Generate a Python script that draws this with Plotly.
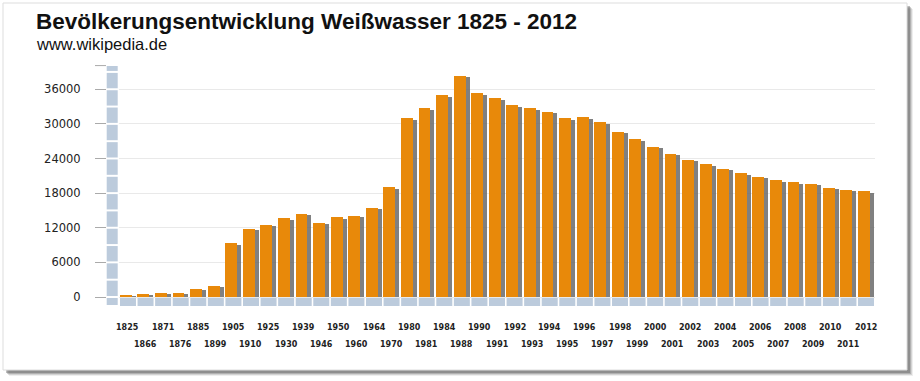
import plotly.graph_objects as go

# ---------------- data ----------------
years = ["1825", "1866", "1871", "1876", "1885", "1899", "1905", "1910", "1925", "1930",
         "1939", "1946", "1950", "1960", "1964", "1970", "1980", "1981", "1984", "1988",
         "1990", "1991", "1992", "1993", "1994", "1995", "1996", "1997", "1998", "1999",
         "2000", "2001", "2002", "2003", "2004", "2005", "2006", "2007", "2008", "2009",
         "2010", "2011", "2012"]
population = [400, 570, 690, 750, 1380, 1900, 9340, 11810, 12560, 13660,
              14400, 12900, 13830, 14060, 15490, 19020, 30950, 32680, 34980, 38320,
              35330, 34400, 33250, 32730, 32100, 31000, 31180, 30260, 28640, 27320,
              26040, 24780, 23790, 23000, 22240, 21440, 20850, 20230, 19880, 19590,
              18950, 18600, 18330]
y_tick_values = [0, 6000, 12000, 18000, 24000, 30000, 36000]
y_tick_labels = ["0", "6000", "12000", "18000", "24000", "30000", "36000"]

title_text = "Bevölkerungsentwicklung Weißwasser 1825 - 2012"
subtitle_text = "www.wikipedia.de"

# ---------------- geometry helpers ----------------
W, H = 920, 381
def px(x):
    return x / W
def py(y):
    return 1 - y / H

Y_MIN, Y_MAX = -1560, 40200
n = len(years)
idx = list(range(n))

ORANGE = "#E8890A"
SHADOW = "#6a6a6a"
FLOOR = "#BCCBDC"

fig = go.Figure()

# shadow bars
fig.add_trace(go.Bar(
    x=idx, y=[v - 250 for v in population], base=0,
    offset=-0.27, width=0.72,
    marker=dict(color=SHADOW, line=dict(width=0)),
    opacity=0.85, hoverinfo="skip", showlegend=False,
))
# main bars
fig.add_trace(go.Bar(
    x=idx, y=population,
    offset=-0.455, width=0.68,
    marker=dict(color=ORANGE, line=dict(width=0)),
    name="Einwohner", showlegend=False,
))

shapes = []
# page frame with drop shadow
for k, op in enumerate([0.10, 0.18, 0.28, 0.40]):
    d = 4 - k
    shapes.append(dict(type="rect", xref="paper", yref="paper",
                       x0=px(5 + d), x1=px(909 + d), y0=py(372 + d), y1=py(5 + d),
                       fillcolor=f"rgba(90,90,90,{op})", line=dict(width=0), layer="below"))
shapes.append(dict(type="rect", xref="paper", yref="paper",
                   x0=px(3), x1=px(907), y0=py(370), y1=py(3),
                   fillcolor="white", line=dict(color="#dddddd", width=1), layer="below"))

# left wall segments
seg_edges = [Y_MIN] + list(range(0, 39001, 3000)) + [Y_MAX]
for a, b in zip(seg_edges[:-1], seg_edges[1:]):
    shapes.append(dict(type="rect", xref="paper", yref="y",
                       x0=px(106.7), x1=px(117.7), y0=a + 170, y1=b - 170,
                       fillcolor=FLOOR, line=dict(width=0), layer="below"))
# top tick of wall
shapes.append(dict(type="line", xref="paper", yref="y",
                   x0=px(95), x1=px(106), y0=Y_MAX - 100, y1=Y_MAX - 100,
                   line=dict(color="#aaaaaa", width=1)))
# floor segments
for i in idx:
    shapes.append(dict(type="rect", xref="x", yref="y",
                       x0=i - 0.455, x1=i + 0.455, y0=Y_MIN, y1=-60,
                       fillcolor=FLOOR, line=dict(width=0), layer="below"))

annotations = [
    dict(text=f"<b>{title_text}</b>", xref="paper", yref="paper",
         x=px(34), y=py(21), xanchor="left", yanchor="middle", showarrow=False,
         font=dict(family="Liberation Sans, Arial", size=22.5, color="#111111")),
    dict(text=subtitle_text, xref="paper", yref="paper",
         x=px(34), y=py(44), xanchor="left", yanchor="middle", showarrow=False,
         font=dict(family="Liberation Sans, Arial", size=16.5, color="#111111")),
]
for i, yr in enumerate(years):
    row_y = 327 if i % 2 == 0 else 344
    annotations.append(dict(text=f"<b>{yr}</b>", xref="x", yref="paper",
                            x=i, y=py(row_y), xanchor="center", yanchor="middle",
                            showarrow=False,
                            font=dict(family="DejaVu Sans", size=8, color="#222222")))

fig.update_layout(
    width=W, height=H,
    margin=dict(l=0, r=0, t=0, b=0),
    paper_bgcolor="white", plot_bgcolor="rgba(0,0,0,0)",
    barmode="overlay", bargap=0,
    shapes=shapes, annotations=annotations,
    xaxis=dict(domain=[px(119.2), px(874.8)], range=[-0.5, n - 0.5],
               showticklabels=False, showgrid=False, zeroline=False, ticks="",
               fixedrange=True),
    yaxis=dict(domain=[py(306), py(65)], range=[Y_MIN, Y_MAX],
               anchor="free", position=px(106),
               tickvals=y_tick_values, ticktext=y_tick_labels,
               ticks="outside", ticklen=11, tickcolor="#aaaaaa", tickwidth=1,
               ticklabelstandoff=12,
               tickfont=dict(family="DejaVu Sans", size=11.5, color="#222222"),
               showgrid=True, gridcolor="#e9e9e9", gridwidth=1,
               zeroline=False, showline=False, fixedrange=True),
    showlegend=False,
)

fig.write_html(
    "out.html",
    config={"displayModeBar": False},
    post_script="document.body.style.margin='0';document.body.style.overflow='hidden';",
)
